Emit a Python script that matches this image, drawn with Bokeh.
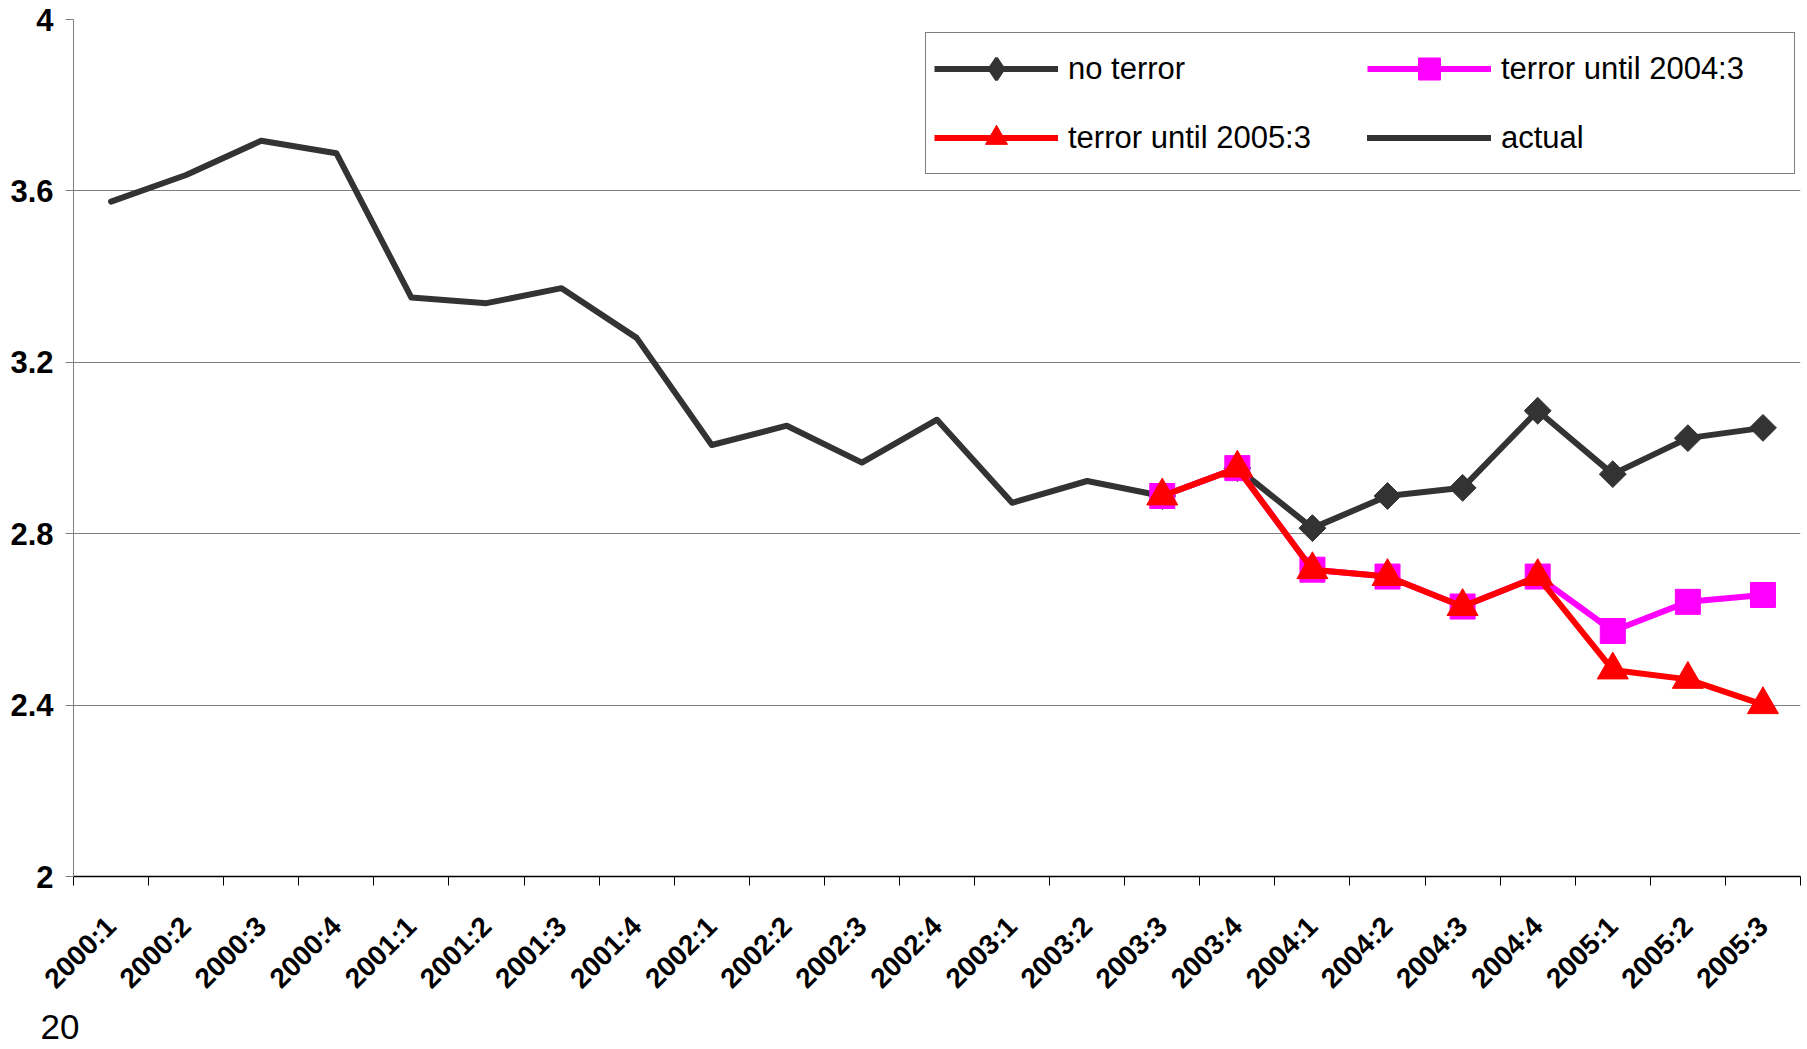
import numpy as np
from bokeh.plotting import figure
from bokeh.models import (Range1d, FixedTicker, Legend, LegendItem, Title)
from bokeh.embed import file_html
from bokeh.resources import INLINE

categories = ["2000:1", "2000:2", "2000:3", "2000:4",
              "2001:1", "2001:2", "2001:3", "2001:4",
              "2002:1", "2002:2", "2002:3", "2002:4",
              "2003:1", "2003:2", "2003:3", "2003:4",
              "2004:1", "2004:2", "2004:3", "2004:4",
              "2005:1", "2005:2", "2005:3"]

actual_periods = categories[:15]
actual = [3.575, 3.637, 3.717, 3.688, 3.351, 3.338, 3.373, 3.257,
          3.007, 3.052, 2.966, 3.066, 2.872, 2.923, 2.888]

forecast_periods = categories[14:]
no_terror = [2.888, 2.953, 2.813, 2.888, 2.907, 3.087, 2.939, 3.023, 3.047]
terror_2004_3 = [2.888, 2.953, 2.716, 2.700, 2.630, 2.700, 2.573, 2.641, 2.657]
terror_2005_3 = [2.888, 2.953, 2.716, 2.700, 2.630, 2.700, 2.482, 2.460, 2.401]

y_ticks = [2, 2.4, 2.8, 3.2, 3.6, 4]
page_number = "20"

idx = {c: i for i, c in enumerate(categories)}
centers = [i + 0.5 for i in range(len(categories))]
bounds = list(range(len(categories) + 1))
xa = [idx[c] + 0.5 for c in actual_periods]
xf = [idx[c] + 0.5 for c in forecast_periods]

DARK = "#333333"
MAG = "#FF00FF"
RED = "#FF0000"
FONT = "Liberation Sans"

p = figure(width=1803, height=1049, output_backend="svg", toolbar_location=None,
           x_range=Range1d(0, len(categories)), y_range=Range1d(2, 4),
           min_border_left=73, min_border_top=19, min_border_right=3,
           min_border_bottom=173)
p.outline_line_color = None
p.background_fill_color = "white"
p.border_fill_color = "white"

# x axis
xax = p.xaxis[0]
xax.ticker = FixedTicker(ticks=centers, minor_ticks=bounds)
xax.major_label_overrides = {c: lab for c, lab in zip(centers, categories)}
xax.major_tick_out = 0
xax.major_tick_in = 0
xax.minor_tick_out = 9
xax.minor_tick_in = 0
xax.minor_tick_line_color = "black"
xax.axis_line_color = "black"
xax.axis_line_width = 1.5
xax.major_label_orientation = np.pi / 4
xax.major_label_text_font = FONT
xax.major_label_text_font_style = "bold"
xax.major_label_text_font_size = "28px"
xax.major_label_text_color = "black"
xax.major_label_standoff = 36

# y axis
yax = p.yaxis[0]
yax.ticker = FixedTicker(ticks=y_ticks)
yax.minor_tick_line_color = None
yax.major_tick_out = 8
yax.major_tick_in = 0
yax.major_tick_line_color = "#808080"
yax.axis_line_color = "#808080"
yax.major_label_text_font = FONT
yax.major_label_text_font_style = "bold"
yax.major_label_text_font_size = "31px"
yax.major_label_text_color = "black"
yax.major_label_standoff = 12

p.xgrid.grid_line_color = None
p.ygrid.ticker = FixedTicker(ticks=y_ticks)
p.ygrid.grid_line_color = "#808080"
p.ygrid.grid_line_width = 1

# series
r_act = p.line(xa, actual, line_color=DARK, line_width=6, line_join="round", line_cap="round")
r_nt_l = p.line(xf, no_terror, line_color=DARK, line_width=6, line_join="round")
# diamond key for the legend (sits under the rotated squares)
key_diamond = p.scatter(xf, no_terror, marker="diamond", size=20,
                        fill_color=DARK, line_color=DARK, line_width=3)
r_nt_m = p.scatter(xf, no_terror, marker="square", angle=np.pi / 4, size=19,
                   fill_color=DARK, line_color=DARK)
r_m_l = p.line(xf, terror_2004_3, line_color=MAG, line_width=6, line_join="round")
r_m_m = p.scatter(xf, terror_2004_3, marker="square", size=25,
                  fill_color=MAG, line_color=MAG)
r_r_l = p.line(xf, terror_2005_3, line_color=RED, line_width=6, line_join="round")
r_r_m = p.scatter(xf, terror_2005_3, marker="triangle", size=31,
                  fill_color=RED, line_color=RED)

legend = Legend(items=[
    LegendItem(label="no terror", renderers=[r_nt_l, key_diamond]),
    LegendItem(label="terror until 2004:3", renderers=[r_m_l, r_m_m]),
    LegendItem(label="terror until 2005:3", renderers=[r_r_l, r_r_m]),
    LegendItem(label="actual", renderers=[r_act]),
], orientation="horizontal", ncols=2, location=(852, 702))
legend.label_text_font = FONT
legend.label_text_font_size = "31px"
legend.label_text_color = "black"
legend.glyph_width = 124
legend.glyph_height = 55
legend.label_height = 55
legend.label_width = 285
legend.label_standoff = 10
legend.spacing = 14
legend.padding = 8
legend.border_line_color = "black"
legend.border_line_width = 1
legend.background_fill_color = "white"
legend.background_fill_alpha = 1
p.add_layout(legend)

p.add_layout(Title(text=page_number, align="left", offset=-33, standoff=8,
                   text_font=FONT, text_font_style="normal",
                   text_font_size="35px", text_color="black"), "below")

open("out.html", "w").write(file_html(p, INLINE))
